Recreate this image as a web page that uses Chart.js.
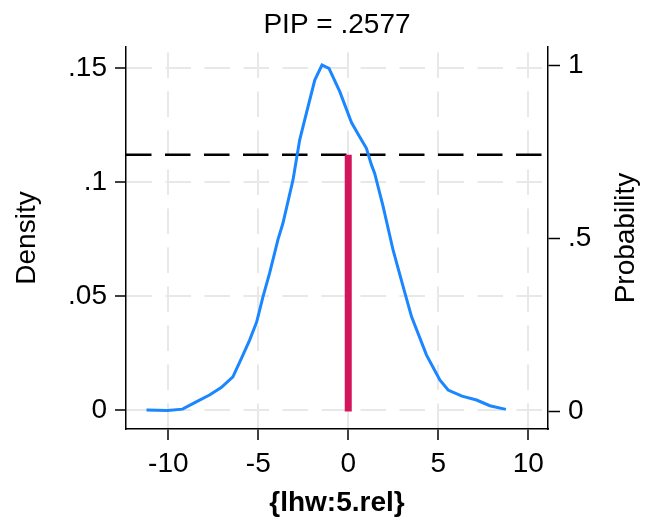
<!DOCTYPE html>
<html>
<head>
<meta charset="utf-8">
<script src="https://cdn.jsdelivr.net/npm/chart.js@4.4.1/dist/chart.umd.min.js"></script>
<style>
  html, body { margin: 0; padding: 0; background: #fff; }
  #wrap { width: 646px; height: 522px; }
</style>
</head>
<body>
<div id="wrap"><canvas id="c" width="646" height="522"></canvas></div>
<script>
// values
const densityX = [-11.21, -10.04, -9.21, -8.45, -7.71, -7.06, -6.41, -5.93, -5.48, -5.09,
  -4.74, -4.37, -3.91, -3.63, -3.07, -2.70, -2.42, -1.86, -1.46, -1.07,
  -0.47, 0.18, 0.64, 1.01, 1.29, 1.47, 1.94, 2.49, 3.05, 3.52,
  4.35, 5.09, 5.55, 6.32, 7.13, 7.87, 8.76];
const densityY = [0.0000, -0.0002, 0.0004, 0.0036, 0.0066, 0.0099, 0.0146, 0.0228, 0.0307, 0.0386,
  0.0496, 0.0600, 0.0746, 0.0819, 0.1009, 0.1184, 0.1272, 0.1447, 0.1513, 0.1498,
  0.1396, 0.1261, 0.1197, 0.1148, 0.1075, 0.1038, 0.0892, 0.0702, 0.0541, 0.0409,
  0.0241, 0.0132, 0.0088, 0.0061, 0.0044, 0.0019, 0.0003];

const pip = 0.2577;
const spikeAt = 0;

const xTicks = [-10, -5, 0, 5, 10];
const densityTicks = [0, 0.05, 0.1, 0.15];
const probTicks = [0, 0.5, 1];

const xRange = [-12.35, 11.1];
const densityRange = [-0.0083, 0.1592];
const probRange = [-0.0506, 1.0535];

const FONT = "'Liberation Sans', Arial, Helvetica, sans-serif";
const TXT = 28;

// stata style labels: .05 instead of 0.05
const fmt = v => String(v).replace(/^0\./, '.').replace(/^-0\./, '-.');

const curve = densityX.map((x, i) => ({ x: x, y: densityY[i] }));

// right axis title reads bottom-to-top, chart.js would turn it the other way
const rightTitle = {
    id: 'rightTitle',
    afterDraw(chart) {
        const s = chart.scales.y2;
        const ctx = chart.ctx;
        ctx.save();
        ctx.translate(s.right - 20, (chart.chartArea.top + chart.chartArea.bottom) / 2);
        ctx.rotate(-Math.PI / 2);
        ctx.font = TXT + 'px ' + FONT;
        ctx.fillStyle = '#000';
        ctx.textAlign = 'center';
        ctx.textBaseline = 'middle';
        ctx.fillText('Probability', 0, 0);
        ctx.restore();
    }
};

new Chart(document.getElementById('c'), {
    type: 'line',
    data: {
        datasets: [
            {
                label: 'density',
                data: curve,
                yAxisID: 'y',
                borderColor: '#1a86ff',
                borderWidth: 3,
                pointRadius: 0,
                tension: 0,
                fill: false,
                order: 1
            },
            {
                label: 'pip',
                data: [{ x: spikeAt, y: 0 }, { x: spikeAt, y: 1 - pip }],
                yAxisID: 'y2',
                borderColor: '#d3155b',
                borderWidth: 7,
                borderCapStyle: 'butt',
                pointRadius: 0,
                order: 2
            },
            {
                label: 'cut',
                data: [{ x: xRange[0], y: 1 - pip }, { x: xRange[1], y: 1 - pip }],
                yAxisID: 'y2',
                borderColor: '#000',
                borderWidth: 2.5,
                borderDash: [25.5, 13.5],
                pointRadius: 0,
                order: 3
            }
        ]
    },
    options: {
        responsive: false,
        animation: false,
        devicePixelRatio: 1,
        layout: { padding: 0 },
        plugins: {
            legend: { display: false },
            tooltip: { enabled: false },
            title: {
                display: true,
                text: 'PIP = .2577',
                color: '#000',
                fullSize: false,
                font: { family: FONT, size: TXT, weight: 'normal' },
                padding: { top: 8.2, bottom: 5.2 }
            }
        },
        scales: {
            x: {
                type: 'linear',
                position: 'bottom',
                min: xRange[0],
                max: xRange[1],
                afterBuildTicks: s => { s.ticks = xTicks.map(v => ({ value: v })); },
                afterFit: s => { s.height = 93; },
                ticks: {
                    color: '#000',
                    padding: 7,
                    maxRotation: 0,
                    font: { family: FONT, size: TXT },
                    callback: v => fmt(v)
                },
                grid: {
                    color: '#e8e8e8',
                    lineWidth: 2,
                    tickLength: 11,
                    tickColor: '#000',
                    tickWidth: 1.5,
                    tickBorderDash: []
                },
                border: { display: true, color: '#000', width: 1.5, dash: [25.5, 13.5], dashOffset: 33.5 },
                title: {
                    display: true,
                    text: '{lhw:5.rel}',
                    color: '#000',
                    font: { family: FONT, size: TXT, weight: 'bold' },
                    padding: { top: 0, bottom: 2.2 }
                }
            },
            y: {
                type: 'linear',
                position: 'left',
                min: densityRange[0],
                max: densityRange[1],
                afterBuildTicks: s => { s.ticks = densityTicks.map(v => ({ value: v })); },
                afterFit: s => { s.width = 126; },
                ticks: {
                    color: '#000',
                    padding: 8,
                    font: { family: FONT, size: TXT },
                    callback: v => fmt(v)
                },
                grid: {
                    color: '#e8e8e8',
                    lineWidth: 2,
                    tickLength: 11,
                    tickColor: '#000',
                    tickWidth: 1.5,
                    tickBorderDash: []
                },
                border: { display: true, color: '#000', width: 1.5, dash: [25.5, 13.5] },
                title: {
                    display: true,
                    text: 'Density',
                    color: '#000',
                    font: { family: FONT, size: TXT },
                    padding: { top: 10.2, bottom: 0 }
                }
            },
            y2: {
                type: 'linear',
                position: 'right',
                min: probRange[0],
                max: probRange[1],
                afterBuildTicks: s => { s.ticks = probTicks.map(v => ({ value: v })); },
                afterFit: s => { s.width = 98; },
                ticks: {
                    color: '#000',
                    padding: 8,
                    font: { family: FONT, size: TXT },
                    callback: v => fmt(v)
                },
                grid: {
                    drawOnChartArea: false,
                    color: '#000',
                    tickLength: 12,
                    tickColor: '#000',
                    tickWidth: 1.5,
                    tickBorderDash: []
                },
                border: { display: true, color: '#000', width: 1.5 }
            }
        }
    },
    plugins: [rightTitle]
});
</script>
</body>
</html>
